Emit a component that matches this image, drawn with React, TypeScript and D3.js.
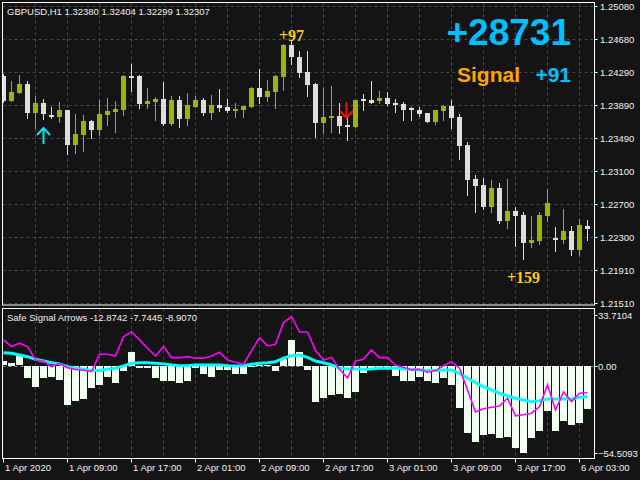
import React, { useEffect, useRef } from "react";
import * as d3 from "d3";

// GBPUSD H1 candles, 1 Apr 01:00 .. 6 Apr 03:00
const opens = [
  1.24239, 1.23942, 1.24038, 1.24142, 1.23797, 1.23914, 1.2377, 1.23749, 1.2383, 1.23409,
  1.23529, 1.23698, 1.23593, 1.2377, 1.2381, 1.2383, 1.24239, 1.24239, 1.23906, 1.2393,
  1.23962, 1.23662, 1.2395, 1.23722, 1.2387, 1.2395, 1.2379, 1.23886, 1.23866, 1.2383,
  1.2383, 1.23866, 1.24094, 1.2399, 1.2405, 1.2423, 1.24611, 1.24463, 1.24287, 1.24142,
  1.23677, 1.23737, 1.23761, 1.2365, 1.23629, 1.23966, 1.2395, 1.23942, 1.23974, 1.23918,
  1.23902, 1.2385, 1.2383, 1.2379, 1.23689, 1.23814, 1.23878, 1.23742, 1.23409, 1.23001,
  1.22928, 1.22664, 1.22892, 1.22496, 1.22616, 1.22568, 1.22231, 1.22255, 1.22556, 1.22291,
  1.22267, 1.22376, 1.22147, 1.22436,
];
const highs = [
  1.24263, 1.24179, 1.24251, 1.24179, 1.23995, 1.23962, 1.23866, 1.23926, 1.23835, 1.23782,
  1.2377, 1.2371, 1.2395, 1.23974, 1.23938, 1.24247, 1.24383, 1.24245, 1.24094, 1.2399,
  1.24167, 1.23995, 1.23995, 1.24034, 1.23995, 1.23974, 1.24007, 1.24082, 1.23962, 1.23914,
  1.23878, 1.24103, 1.24323, 1.24191, 1.24245, 1.24623, 1.24663, 1.24539, 1.24539, 1.2415,
  1.24091, 1.24118, 1.23911, 1.2373, 1.23955, 1.24026, 1.24182, 1.24058, 1.24043, 1.23959,
  1.23926, 1.23862, 1.23862, 1.23795, 1.23835, 1.23886, 1.2395, 1.23782, 1.23449, 1.23052,
  1.23013, 1.22989, 1.22952, 1.23001, 1.22664, 1.22604, 1.22556, 1.22604, 1.2288, 1.22424,
  1.2264, 1.22436, 1.2252, 1.22508,
];
const lows = [
  1.23926, 1.23938, 1.24038, 1.23737, 1.23617, 1.23725, 1.23737, 1.23682, 1.23297, 1.23317,
  1.23341, 1.2349, 1.23529, 1.2365, 1.23569, 1.2377, 1.24062, 1.23858, 1.23858, 1.2371,
  1.23655, 1.23655, 1.23629, 1.2365, 1.23865, 1.2377, 1.23722, 1.23822, 1.2381, 1.23749,
  1.23749, 1.2386, 1.23914, 1.23942, 1.23858, 1.24074, 1.24383, 1.2423, 1.24002, 1.23509,
  1.2355, 1.23569, 1.2355, 1.23469, 1.23625, 1.2383, 1.23911, 1.23911, 1.23886, 1.23802,
  1.2371, 1.2371, 1.23758, 1.23685, 1.23658, 1.2371, 1.23617, 1.23245, 1.22808, 1.22608,
  1.2264, 1.22608, 1.22472, 1.22412, 1.22195, 1.22039, 1.22183, 1.22219, 1.22496, 1.22135,
  1.22231, 1.22087, 1.22087, 1.22267,
];
const closes = [
  1.23942, 1.24046, 1.24142, 1.23797, 1.23914, 1.23778, 1.23749, 1.2383, 1.23409, 1.23541,
  1.23698, 1.23593, 1.23782, 1.23818, 1.23846, 1.24239, 1.24223, 1.23906, 1.23942, 1.23962,
  1.23662, 1.2395, 1.23722, 1.23886, 1.2395, 1.2379, 1.23886, 1.23858, 1.23822, 1.23846,
  1.23878, 1.24094, 1.2399, 1.24058, 1.24239, 1.24611, 1.24463, 1.24278, 1.24134, 1.23677,
  1.23742, 1.23761, 1.23638, 1.23626, 1.2395, 1.23947, 1.23918, 1.23974, 1.23906, 1.23898,
  1.2383, 1.23834, 1.23778, 1.23689, 1.2383, 1.23878, 1.2373, 1.23401, 1.22989, 1.2292,
  1.22664, 1.22892, 1.22496, 1.22616, 1.22556, 1.22231, 1.22267, 1.22568, 1.22712, 1.22267,
  1.22376, 1.22147, 1.22448, 1.22403,
];

// Safe Signal Arrows buffers
const histValues = [
  2.6, 1.8, 5.5, -7.2, -12.3, -7.2, -6.4, -8.3, -23.2, -20.7,
  -19.7, -13.1, -11.1, -6.4, -9.9, -2.8, 8.3, -1.0, -1.0, -7.0,
  -8.8, -8.8, -9.9, -8.8, -1.4, -4.6, -6.4, -2.2, -2.2, -4.6,
  -4.6, -0.5, 0.5, 0.5, -2.8, 4.0, 15.5, 8.3, -2.2, -21.3,
  -19.1, -17.3, -16.7, -19.1, -15.3, -4.0, -2.0, -1.6, -1.4, -5.8,
  -8.7, -8.7, -6.4, -8.7, -9.9, -6.9, -11.1, -24.8, -39.7, -45.6,
  -40.9, -40.5, -42.7, -42.1, -48.7, -51.7, -42.7, -39.0, -26.6, -38.5,
  -32.5, -35.4, -34.2, -25.4,
];
const fastValues = [
  15.3, 11.3, 13.3, 11.3, 3.3, 2.7, -0.7, 1.4, -1.3, -2.4,
  -2.8, -3.6, 6.7, 6.7, 5.7, 17.2, 20.2, 15.3, 10.3, 5.7,
  11.3, 4.7, 4.7, 5.3, 4.4, 4.4, 5.7, 7.9, 3.3, 2.0,
  0.8, 8.7, 16.6, 11.7, 12.7, 25.6, 29.1, 20.0, 20.0, 9.0,
  3.3, 4.9, -2.2, -7.4, 2.7, 3.8, 9.3, 4.7, 4.7, 0.2,
  -1.0, -2.6, -2.2, -4.0, -3.0, -0.1, 2.3, -1.6, -14.5, -27.7,
  -25.7, -24.9, -24.1, -19.5, -30.0, -29.3, -28.4, -24.5, -11.4, -26.5,
  -15.7, -21.5, -16.5, -16.2,
];
const slowValues = [
  7.7, 7.3, 6.3, 5.3, 3.8, 2.7, 1.7, 1.0, -0.7, -1.6,
  -2.2, -3.0, -3.0, -2.2, -1.6, -0.2, 1.4, 1.7, 1.7, 1.4,
  1.0, 0.4, -0.1, -0.1, 0.4, 0.4, 0.4, 0.4, -0.1, -0.2,
  -0.1, 0.8, 1.4, 1.7, 2.3, 4.4, 5.9, 6.3, 4.9, 2.7,
  1.7, 0.4, -1.6, -2.0, -2.0, -2.2, -2.0, -1.6, -1.6, -1.6,
  -2.0, -2.2, -2.6, -3.0, -3.0, -2.6, -2.6, -4.6, -7.6, -10.2,
  -12.6, -14.5, -16.5, -18.1, -19.5, -20.5, -21.5, -20.9, -19.9, -19.9,
  -19.9, -19.9, -18.9, -18.5,
];

const priceTicks = [1.2508, 1.2468, 1.2429, 1.2389, 1.2349, 1.231, 1.227, 1.223, 1.2191, 1.2151];
const indMax = 33.7104;
const indMin = -54.5093;
const timeTickIdx = [0, 8, 16, 24, 32, 40, 48, 56, 64, 72];
const timeTickLabels = [
  "1 Apr 2020", "1 Apr 09:00", "1 Apr 17:00", "2 Apr 01:00", "2 Apr 09:00",
  "2 Apr 17:00", "3 Apr 01:00", "3 Apr 09:00", "3 Apr 17:00", "6 Apr 03:00",
];

const buyIdx = [5];
const buyPrice = [1.23614];
const sellIdx = [43];
const sellPrice = [1.23734];
const profitIdx = [36, 65];
const profitPrice = [1.24659, 1.2175];
const profitText = ["+97", "+159"];

const titleText = "GBPUSD,H1  1.32380 1.32404 1.32299 1.32307";
const indicatorText = "Safe Signal Arrows -12.8742 -7.7445 -8.9070";
const totalPips = "+28731";
const signalPips = "+91";

const App: React.FC = () => {
  const svgRef = useRef<SVGSVGElement | null>(null);

  useEffect(() => {
    const width = 640;
    const height = 480;
    const left = 2.5;
    const right = 594.5;
    const mainTop = 2.5;
    const mainBottom = 305;
    const indTop = 308.5;
    const indBottom = 458.5;
    const bg = "#141414";
    const bull = "#9db20a";
    const bear = "#dedede";
    const grid = "#474747";
    const txt = "#f0f0f0";
    const font = "'Liberation Sans', Arial, sans-serif";

    const svg = d3
      .select(svgRef.current)
      .attr("width", width)
      .attr("height", height)
      .attr("viewBox", [0, 0, width, height]);
    svg.selectAll("*").remove();

    svg.append("rect").attr("width", width).attr("height", height).attr("fill", bg);

    const n = opens.length;
    const x = d3
      .scalePoint<number>()
      .domain(d3.range(n))
      .range([3.5, 3.5 + (n - 1) * 8]);
    const y = d3.scaleLinear().domain([1.2151, 1.2508]).range([303, 6]);
    const yi = d3.scaleLinear().domain([indMin, indMax]).range([457, 309]);

    const defs = svg.append("defs");
    defs
      .append("clipPath")
      .attr("id", "clipMain")
      .append("rect")
      .attr("x", left + 0.5)
      .attr("y", mainTop + 0.5)
      .attr("width", right - left - 1)
      .attr("height", mainBottom - mainTop - 1);
    defs
      .append("clipPath")
      .attr("id", "clipInd")
      .append("rect")
      .attr("x", left + 0.5)
      .attr("y", indTop + 0.5)
      .attr("width", right - left - 1)
      .attr("height", indBottom - indTop - 1);

    // grid
    const gridIdx = d3.range(4, n, 4);
    const gGrid = svg.append("g").attr("stroke", grid).attr("stroke-dasharray", "3,3");
    gGrid
      .selectAll(".hg")
      .data(priceTicks)
      .enter()
      .append("line")
      .attr("x1", left)
      .attr("x2", right)
      .attr("y1", (d) => Math.round(y(d)) + 0.5)
      .attr("y2", (d) => Math.round(y(d)) + 0.5);
    gGrid
      .selectAll(".vg")
      .data(gridIdx)
      .enter()
      .append("line")
      .attr("x1", (d) => x(d) as number)
      .attr("x2", (d) => x(d) as number)
      .attr("y1", mainTop)
      .attr("y2", mainBottom);
    gGrid
      .selectAll(".vg2")
      .data(gridIdx)
      .enter()
      .append("line")
      .attr("x1", (d) => x(d) as number)
      .attr("x2", (d) => x(d) as number)
      .attr("y1", indTop)
      .attr("y2", indBottom);

    // candles
    const gC = svg.append("g").attr("clip-path", "url(#clipMain)");
    const idx = d3.range(n);
    gC.selectAll(".wick")
      .data(idx)
      .enter()
      .append("line")
      .attr("x1", (i) => x(i) as number)
      .attr("x2", (i) => x(i) as number)
      .attr("y1", (i) => Math.round(y(highs[i])))
      .attr("y2", (i) => Math.round(y(lows[i])) + 1)
      .attr("stroke", (i) => (closes[i] >= opens[i] ? bull : bear));
    gC.selectAll(".body")
      .data(idx)
      .enter()
      .append("rect")
      .attr("x", (i) => (x(i) as number) - 2.5)
      .attr("width", 5)
      .attr("y", (i) => Math.round(y(Math.max(opens[i], closes[i]))))
      .attr("height", (i) =>
        Math.max(2, Math.round(y(Math.min(opens[i], closes[i]))) - Math.round(y(Math.max(opens[i], closes[i])))),
      )
      .attr("fill", (i) => (closes[i] >= opens[i] ? bull : bear));

    // signal arrows
    buyIdx.forEach((b, k) => {
      const cx = x(b) as number;
      const ty = y(buyPrice[k]);
      svg
        .append("path")
        .attr("d", `M${cx - 6.5},${ty + 7} L${cx},${ty} L${cx + 6.5},${ty + 7} M${cx},${ty} L${cx},${ty + 16}`)
        .attr("fill", "none")
        .attr("stroke", "#00e8f0")
        .attr("stroke-width", 2);
    });
    sellIdx.forEach((s, k) => {
      const cx = (x(s) as number) - 1;
      const ty = y(sellPrice[k]);
      svg
        .append("path")
        .attr("d", `M${cx - 6.5},${ty - 7} L${cx},${ty} L${cx + 6.5},${ty - 7} M${cx},${ty} L${cx},${ty - 16}`)
        .attr("fill", "none")
        .attr("stroke", "#ee1111")
        .attr("stroke-width", 2);
    });
    profitIdx.forEach((p, k) => {
      svg
        .append("text")
        .attr("x", x(p) as number)
        .attr("y", y(profitPrice[k]))
        .attr("text-anchor", "middle")
        .attr("font-family", "'Liberation Serif', 'Times New Roman', serif")
        .attr("font-weight", "bold")
        .attr("font-size", "16px")
        .attr("fill", "#ffcc00")
        .text(profitText[k]);
    });

    // indicator
    const gI = svg.append("g").attr("clip-path", "url(#clipInd)");
    gI.append("line")
      .attr("x1", left)
      .attr("x2", right)
      .attr("y1", Math.round(yi(0)) + 0.5)
      .attr("y2", Math.round(yi(0)) + 0.5)
      .attr("stroke", "#8a8a8a")
      .attr("stroke-dasharray", "3,3");
    gI.selectAll(".hist")
      .data(idx)
      .enter()
      .append("rect")
      .attr("x", (i) => (x(i) as number) - 3.5)
      .attr("width", 7)
      .attr("y", (i) => Math.round(yi(Math.max(0, histValues[i]))))
      .attr("height", (i) => Math.max(1, Math.round(Math.abs(yi(histValues[i]) - yi(0)))))
      .attr("fill", "#f0fff0");
    const line = (vals: number[]) =>
      d3
        .line<number>()
        .x((_, i) => x(i) as number)
        .y((d) => yi(d))(vals);
    gI.append("path")
      .attr("d", line(slowValues))
      .attr("fill", "none")
      .attr("stroke", "#00ffff")
      .attr("stroke-width", 3);
    gI.append("path")
      .attr("d", line(fastValues))
      .attr("fill", "none")
      .attr("stroke", "#ff00ff")
      .attr("stroke-width", 1.6);

    // frames
    svg
      .append("rect")
      .attr("x", left)
      .attr("y", mainTop)
      .attr("width", right - left)
      .attr("height", mainBottom - mainTop)
      .attr("fill", "none")
      .attr("stroke", "#ffffff");
    svg
      .append("rect")
      .attr("x", left)
      .attr("y", indTop)
      .attr("width", right - left)
      .attr("height", indBottom - indTop)
      .attr("fill", "none")
      .attr("stroke", "#ffffff");

    // price axis
    const gP = svg.append("g").attr("font-family", font).attr("font-size", "9.5px").attr("fill", txt);
    priceTicks.forEach((p) => {
      const py = Math.round(y(p)) + 0.5;
      gP.append("line").attr("x1", right).attr("x2", right + 3).attr("y1", py).attr("y2", py).attr("stroke", "#ffffff");
      gP.append("text").attr("x", 600).attr("y", py + 3.5).text(d3.format(".5f")(p));
    });
    const indLabels: [number, string, number][] = [
      [indMax, d3.format(".4f")(indMax), 6],
      [0, "0.00", 0.5],
      [indMin, d3.format(".4f")(indMin), -4.5],
    ];
    indLabels.forEach(([v, label, off]) => {
      const py = Math.round(yi(v) + off) + 0.5;
      gP.append("line").attr("x1", right).attr("x2", right + 3).attr("y1", py).attr("y2", py).attr("stroke", "#ffffff");
      gP.append("text").attr("x", 598).attr("y", py + 3.5).text(label);
    });

    // time axis
    timeTickIdx.forEach((t, k) => {
      const tx = x(t) as number;
      gP.append("line").attr("x1", tx).attr("x2", tx).attr("y1", indBottom).attr("y2", indBottom + 4).attr("stroke", "#ffffff");
      gP.append("text").attr("x", tx + 1.5).attr("y", 471).text(timeTickLabels[k]);
    });

    // titles
    gP.append("text").attr("x", 7).attr("y", 14.5).text(titleText);
    gP.append("text").attr("x", 7).attr("y", 320.5).text(indicatorText);

    svg
      .append("text")
      .attr("x", 571)
      .attr("y", 45)
      .attr("text-anchor", "end")
      .attr("font-family", font)
      .attr("font-weight", "bold")
      .attr("font-size", "37px")
      .attr("fill", "#00bfff")
      .text(totalPips);
    svg
      .append("text")
      .attr("x", 457)
      .attr("y", 82)
      .attr("font-family", font)
      .attr("font-weight", "bold")
      .attr("font-size", "21px")
      .attr("fill", "#ffa500")
      .text("Signal");
    svg
      .append("text")
      .attr("x", 571)
      .attr("y", 82)
      .attr("text-anchor", "end")
      .attr("font-family", font)
      .attr("font-weight", "bold")
      .attr("font-size", "21px")
      .attr("fill", "#00bfff")
      .text(signalPips);
  }, []);

  return (
    <div style={{ position: "absolute", left: 0, top: 0, width: "640px", height: "480px" }}>
      <svg ref={svgRef} style={{ display: "block" }}></svg>
    </div>
  );
};

export default App;
